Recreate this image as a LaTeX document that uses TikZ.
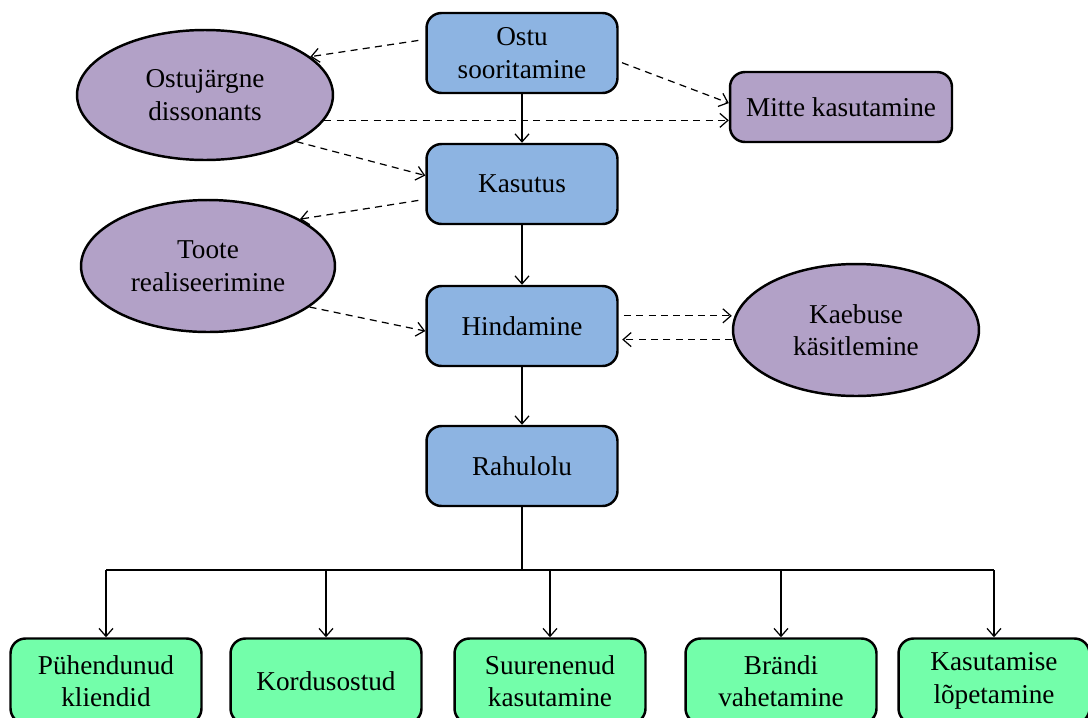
\documentclass[tikz,border=0pt]{standalone}
\usepackage{fontspec}
\setmainfont{Liberation Serif}
\usetikzlibrary{shapes.geometric,arrows.meta}

\definecolor{stepblue}{RGB}{141,180,226}
\definecolor{sidelilac}{RGB}{178,161,199}
\definecolor{endgreen}{RGB}{115,254,170}

\begin{document}
\begin{tikzpicture}[x=0.02cm, y=-0.02cm,
 >={Straight Barb[length=1.6mm,width=2.8mm]},
 every node/.style={font=\fontsize{15.5}{18.5}\selectfont, align=center},
 stage/.style={draw, line width=1.4pt, rounded corners=0.3cm, fill=stepblue,
   minimum width=3.82cm, minimum height=1.6cm},
 aside/.style={draw, line width=1.4pt, ellipse, fill=sidelilac, inner sep=0pt},
 outcome/.style={draw, line width=1.4pt, rounded corners=0.3cm, fill=endgreen,
   minimum width=3.82cm, minimum height=1.7cm},
 flow/.style={->, line width=0.7pt},
 maybe/.style={->, line width=0.7pt, dashed, dash pattern=on 4pt off 3pt}
]

\useasboundingbox (0,0) rectangle (1088,717);
\path [clip] (0,0) rectangle (1088,717);

% main chain
\node (ostu) at (522,53) [stage] {Ostu\\sooritamine};
\node (kas) at (522,184) [stage] {Kasutus};
\node (hind) at (522,326) [stage] {Hindamine};
\node (rah) at (522,466) [stage] {Rahulolu};

% side states
\node (mitte) at (841,107) [stage, fill=sidelilac, minimum width=4.44cm,
  minimum height=1.4cm] {Mitte kasutamine};
\node (dis) at (205,95) [aside, minimum width=5.12cm, minimum height=2.6cm]
  {Ostujärgne\\dissonants};
\node (toote) at (208,266) [aside, minimum width=5.08cm, minimum height=2.64cm]
  {Toote\\realiseerimine};
\node (kaeb) at (856,330) [aside, minimum width=4.92cm, minimum height=2.64cm]
  {Kaebuse\\käsitlemine};

\draw[flow] (ostu) -- (kas);
\draw[flow] (kas) -- (hind);
\draw[flow] (hind) -- (rah);

\draw[maybe, shorten <=4pt] (ostu.172) -- (dis.20);
\draw[maybe, shorten <=2pt] (ostu.-5) -- (mitte.178);
\draw[maybe] (dis.-12.5) -- (dis.-12.5 -| mitte.west);
\draw[maybe] (dis.-27) -- (kas.175);
\draw[maybe, shorten <=4pt] (kas.189) -- (toote.27);
\draw[maybe] (toote.-22.5) -- (hind.183.5);
\draw[maybe, shorten <=3pt] (hind.6.6) -- (hind.6.6 -| kaeb.west);
\draw[maybe, shorten >=2pt] (kaeb.west |- hind.-8) -- (hind.-8);

% outcomes
\coordinate (bus) at (522,570);
\foreach \x/\txt [count=\i] in {106/{Pühendunud\\kliendid}, 326/{Kordusostud},
  550/{Suurenenud\\kasutamine}, 781/{Brändi\\vahetamine},
  994/{Kasutamise\\lõpetamine}} {
 \node (out\i) at (\x,681) [outcome] {\txt};
 \draw[flow] (bus -| out\i.north) -- (out\i.north);
}
\draw[line width=0.7pt] (rah) -- (bus);
\draw[line width=0.7pt] (bus -| out1.north) -- (bus -| out5.north);

\end{tikzpicture}
\end{document}
